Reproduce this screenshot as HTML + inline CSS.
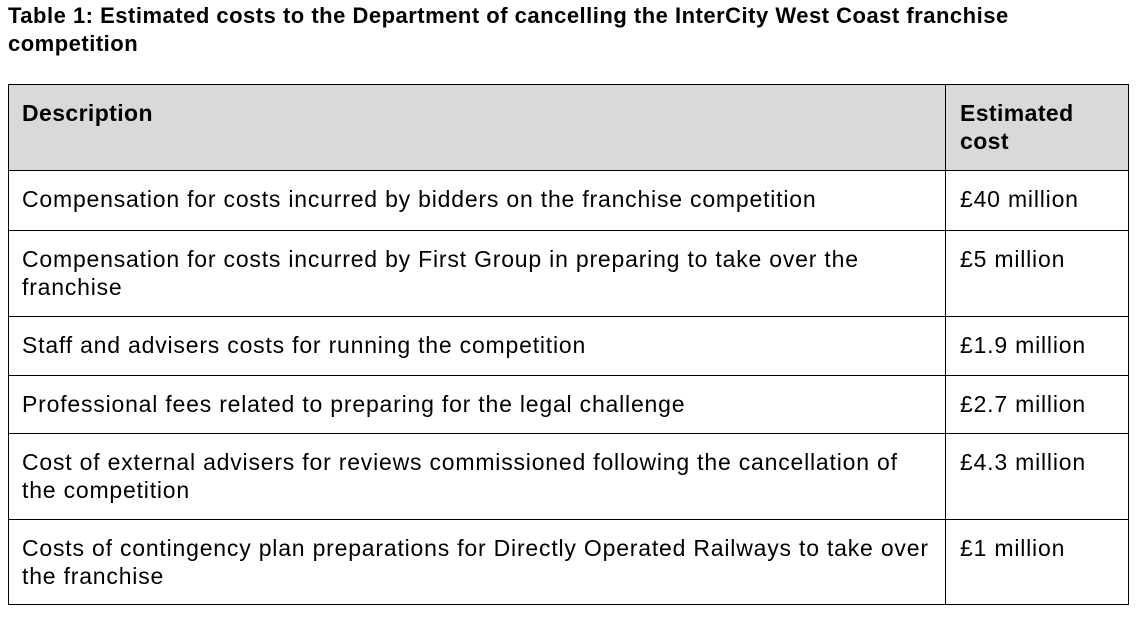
<!DOCTYPE html>
<html><head><meta charset="utf-8"><style>
html,body{margin:0;padding:0;background:#fff;width:1136px;height:617px;overflow:hidden;font-family:"Liberation Sans",Arial,sans-serif;color:#000}
.title{position:absolute;left:8px;top:2px;width:1125px;font-weight:bold;font-size:22px;line-height:28px;letter-spacing:0.5px;white-space:nowrap}
.tbl{position:absolute;left:8px;top:84px;width:1121px;height:521px;border:1.5px solid #000;box-sizing:border-box}
.row{position:absolute;left:0;width:100%;border-top:1.3px solid #000;box-sizing:border-box}
.row:first-child{border-top:none}
.c{position:absolute;top:0;font-size:23px;line-height:28px;padding-top:14px;box-sizing:border-box;letter-spacing:0.8px;white-space:nowrap}
.d{left:13px;width:915px}
.e{left:951px;width:168px}
.vline{position:absolute;left:936px;top:0;width:1.3px;height:100%;background:#000}
.hdr{background:#d9d9d9;font-weight:bold}
.hdr .c{letter-spacing:0.4px}
</style></head><body>
<div class="title">Table 1: Estimated costs to the Department of cancelling the InterCity West Coast franchise<br>competition</div>
<div class="tbl">
 <div class="row hdr" style="top:0;height:85px"><div class="c d">Description</div><div class="c e">Estimated<br>cost</div></div>
 <div class="row" style="top:85px;height:60px"><div class="c d">Compensation for costs incurred by bidders on the franchise competition</div><div class="c e">£40 million</div></div>
 <div class="row" style="top:145px;height:86px"><div class="c d">Compensation for costs incurred by First Group in preparing to take over the<br>franchise</div><div class="c e">£5 million</div></div>
 <div class="row" style="top:231px;height:59px"><div class="c d">Staff and advisers costs for running the competition</div><div class="c e">£1.9 million</div></div>
 <div class="row" style="top:290px;height:58px"><div class="c d">Professional fees related to preparing for the legal challenge</div><div class="c e">£2.7 million</div></div>
 <div class="row" style="top:348px;height:86px"><div class="c d">Cost of external advisers for reviews commissioned following the cancellation of<br>the competition</div><div class="c e">£4.3 million</div></div>
 <div class="row" style="top:434px;height:86px"><div class="c d">Costs of contingency plan preparations for Directly Operated Railways to take over<br>the franchise</div><div class="c e">£1 million</div></div>
 <div class="vline"></div>
</div>
</body></html>
